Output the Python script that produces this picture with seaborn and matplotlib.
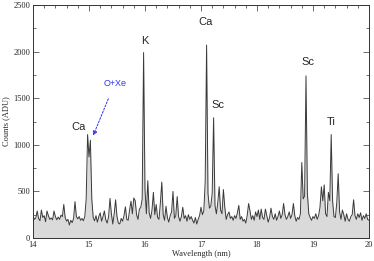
"""Emission spectrum, 14-20 nm, with element labels."""
import matplotlib
matplotlib.use("Agg")
import matplotlib.pyplot as plt
import numpy as np
import pandas as pd
import seaborn as sns
from matplotlib.ticker import MultipleLocator

# wavelength grid, 0.025 nm step
wavelength = np.round(np.arange(241) * 0.025 + 14.0, 3)

# counts, one value per grid point
counts = [
    # 14.0 - 15.0
    240, 200, 215, 290, 210, 185, 300, 220, 240, 175,
    290, 240, 200, 215, 195, 290, 230, 195, 225, 200,
    245, 230, 360, 220, 180, 200, 140, 190, 165, 210,
    390, 230, 205, 230, 190, 210, 185, 230, 420, 1110,
    870,
    # 15.0 - 16.0
    1050, 420, 220, 185, 240, 170, 230, 270, 180, 230,
    290, 195, 160, 230, 425, 260, 150, 260, 410, 230,
    160, 150, 210, 180, 240, 335, 200, 190, 300, 395,
    260, 430, 400, 250, 200, 310, 330, 420, 1990, 520,
    # 16.0 - 17.0
    260, 615, 270, 210, 300, 490, 250, 360, 220, 200,
    380, 600, 250, 190, 340, 220, 170, 240, 280, 500,
    210, 240, 445, 230, 180, 230, 330, 210, 240, 180,
    250, 200, 230, 190, 160, 220, 150, 200, 240, 330,
    # 17.0 - 18.0
    250, 290, 600, 2070, 480, 320, 340, 480, 1290, 350,
    260, 380, 550, 300, 260, 520, 330, 200, 250, 280,
    210, 230, 190, 240, 210, 270, 350, 200, 230, 180,
    200, 160, 240, 370, 290, 200, 240, 190, 280, 230,
    # 18.0 - 19.0
    300, 200, 310, 220, 200, 310, 240, 170, 220, 320,
    230, 200, 260, 190, 230, 290, 210, 250, 370, 250,
    200, 230, 280, 210, 250, 370, 240, 180, 220, 200,
    260, 810, 420, 450, 1740, 480, 260, 220, 190, 230,
    # 19.0 - 20.0
    210, 260, 200, 240, 330, 550, 400, 570, 260, 230,
    490, 400, 1110, 400, 230, 220, 380, 690, 280, 200,
    300, 250, 180, 260, 200, 180, 230, 250, 410, 240,
    200, 260, 220, 270, 190, 240, 210, 260, 200, 190,
]

# element labels: text, x, y
line_labels = ["Ca", "K", "Ca", "Sc", "Sc", "Ti"]
label_x = [14.82, 16.0, 17.08, 17.30, 18.905, 19.32]
label_y = [1190, 2110, 2320, 1430, 1890, 1240]

df = pd.DataFrame({"wavelength": wavelength, "counts": counts})

sns.set_style("ticks")
plt.rcParams["font.family"] = ["Liberation Serif", "DejaVu Serif"]

fig = plt.figure(figsize=(3.74, 2.61), dpi=100)
ax = fig.add_axes([0.0882, 0.0881, 0.8984, 0.8927])

ax.fill_between(df["wavelength"], df["counts"], 0, color="#dadada", lw=0)
sns.lineplot(data=df, x="wavelength", y="counts", ax=ax,
             color="#3a3a3a", linewidth=0.7)

for txt, x, y in zip(line_labels, label_x, label_y):
    ax.text(x, y, txt, ha="center", va="center", fontsize=8,
            family=["Liberation Sans", "DejaVu Sans"])

# O+Xe blend marker
ax.annotate("O+Xe", xy=(15.075, 1100), xytext=(15.46, 1660),
            ha="center", va="center", color="#3333ee", fontsize=6.5,
            family=["Liberation Sans", "DejaVu Sans"],
            arrowprops=dict(arrowstyle="-|>", color="#3333ee", lw=0.7,
                            linestyle=(0, (2, 1.5)), shrinkA=6, shrinkB=0,
                            mutation_scale=6))

ax.set_xlim(14, 20)
ax.set_ylim(0, 2500)
ax.xaxis.set_major_locator(MultipleLocator(1))
ax.xaxis.set_minor_locator(MultipleLocator(0.2))
ax.yaxis.set_major_locator(MultipleLocator(500))
ax.yaxis.set_minor_locator(MultipleLocator(250))
ax.tick_params(which="both", direction="in", top=True, right=True,
               labelsize=6, pad=2, color="#555555", width=0.6)
ax.tick_params(which="major", length=4)
ax.tick_params(which="minor", length=2)
for s in ax.spines.values():
    s.set_linewidth(0.7)
    s.set_color("#333333")

ax.set_xlabel("Wavelength (nm)", fontsize=6, labelpad=1)
ax.set_ylabel("Counts (ADU)", fontsize=6, labelpad=2)

fig.savefig("out.png", dpi=100)
